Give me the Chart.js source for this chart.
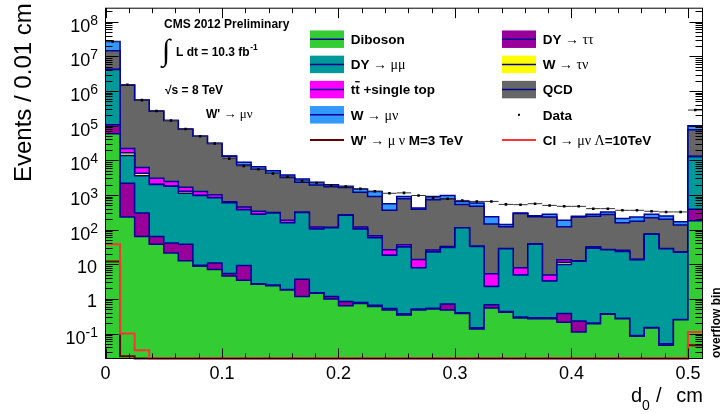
<!DOCTYPE html>
<html>
<head>
<meta charset="utf-8">
<script src="https://cdn.jsdelivr.net/npm/chart.js@4/dist/chart.umd.min.js"></script>
<style>
  html, body { margin: 0; padding: 0; background: #fff; }
  #wrap { width: 721px; height: 414px; }
</style>
</head>
<body>
<div id="wrap"><canvas id="d0-plot" width="721" height="414"></canvas></div>
<script>
// d0 bins: 40 bins of 0.0125 cm plus the overflow bin
const binEdges = [0, 0.0125, 0.025, 0.0375, 0.05, 0.0625, 0.075, 0.0875, 0.1, 0.1125,
  0.125, 0.1375, 0.15, 0.1625, 0.175, 0.1875, 0.2, 0.2125, 0.225, 0.2375,
  0.25, 0.2625, 0.275, 0.2875, 0.3, 0.3125, 0.325, 0.3375, 0.35, 0.3625,
  0.375, 0.3875, 0.4, 0.4125, 0.425, 0.4375, 0.45, 0.4625, 0.475, 0.4875,
  0.5, 0.5125];

const diboson = [5.9e4, 233, 63, 38, 21, 12.7, 8.8, 7.05, 4.55, 3.43,
  2.63, 2.41, 1.82, 1.17, 1.46, 0.985, 0.636, 0.74, 0.6, 0.48,
  0.345, 0.48, 0.51, 0.48, 0.38, 0.136, 0.55, 0.41, 0.28, 0.265,
  0.265, 0.21, 0.111, 0.19, 0.36, 0.265, 0.083, 0.144, 0.046, 0.25,
  180];
const dyTauTau = [4.7e4, 1950, 240, 25, 20, 25, 0.6, 3.9, 0.9, 5.7,
  0.1, 0.1, 0.05, 2.5, 0.05, 0.19, 0.21, 0.05, 0.05, 0.05,
  0.03, 0.03, 0.03, 0.23, 0.02, 0.01, 0.13, 0.02, 0.02, 0.02,
  0.02, 0.17, 0.117, 0.01, 0.01, 0.01, 0.005, 0.005, 0.005, 0.005,
  205];
const dyMuMu = [4.08e6, 11700, 3290, 1930, 1740, 1080, 955, 817, 593, 368,
  274, 300, 155, 306, 102, 112, 259, 103, 58, 17.6,
  30.9, 7.35, 21.9, 29.8, 112, 32.4, 1.58, 27.6, 4.56, 37.7,
  3.0, 9.4, 12, 29, 25.8, 23.2, 13.5, 73, 28, 22,
  12400];
const wTauNu = [3000, 2700, 680, 50, 30, 160, 20, 15, 5, 3,
  2, 1, 1, 1, 1, 0.5, 0.5, 0.5, 0.3, 0.2,
  0.2, 0.1, 0.1, 0.1, 0.1, 0.1, 0.01, 0.05, 0.02, 0.05,
  0.02, 1.6, 0.05, 0.1, 0.05, 0.05, 0.05, 0.05, 0.05, 0.05,
  50];
const ttSingleTop = [2000, 5400, 1930, 1010, 640, 390, 270, 165, 30, 70,
  60, 10, 30, 8, 14, 3, 3, 14, 7, 8.1,
  5, 5.7, 3.2, 2, 1, 0.5, 3.04, 0.3, 3, 0.3,
  1.58, 2.2, 0.3, 2.6, 0.3, 1.7, 0.2, 0.3, 0.2, 0.2,
  200];
const qcd = [1.04e7, 1.46e6, 5.4e5, 2.6e5, 1.38e5, 7.8e4, 4.8e4, 2.95e4, 1.25e4, 6930,
  5200, 3950, 3030, 2000, 1830, 1620, 1370, 1080, 840, 335,
  740, 372, 700, 745, 420, 437, 139, 93, 282, 195,
  228, 107, 220, 211, 246, 132, 161, 145, 172, 113,
  6.3e4];
const wMuNu = [1.23e7, 4e4, 5e3, 3e3, 2e3, 1e3, 700, 400, 250, 1500,
  1000, 710, 530, 560, 370, 250, 150, 300, 350, 200,
  130, 35, 180, 190, 117, 115, 89, 20, 13, 16,
  44, 66, 12, 34, 52, 52, 58, 59, 45, 33,
  2.3e4];
const observed = [2.7e7, 1.53e6, 5.48e5, 2.66e5, 1.41e5, 8.0e4, 4.95e4, 3.06e4, 1.12e4, 6900,
  5560, 4170, 3360, 2580, 2220, 1860, 1740, 1500, 1280, 1120,
  1150, 966, 829, 777, 695, 652, 652, 535, 525, 560,
  500, 470, 470, 403, 403, 361, 361, 338, 324, 324,
  2.83e5];
const wPrime = [12, 0.022, 0, 0, 0, 0, 0, 0, 0, 0,
  0, 0, 0, 0, 0, 0, 0, 0, 0, 0,
  0, 0, 0, 0, 0, 0, 0, 0, 0, 0,
  0, 0, 0, 0, 0, 0, 0, 0, 0, 0,
  0.046];
const contactInt = [38, 0.1, 0.033, 0, 0, 0, 0, 0, 0, 0,
  0, 0, 0, 0, 0, 0, 0, 0, 0, 0,
  0, 0, 0, 0, 0, 0, 0, 0, 0, 0,
  0, 0, 0, 0, 0, 0, 0, 0, 0, 0,
  0.11];

const xTickLabels = ["0", "0.1", "0.2", "0.3", "0.4", "0.5"];
const yTickExponents = [-1, 0, 1, 2, 3, 4, 5, 6, 7, 8];

const yMin = 0.019;
const yMax = 2.47e8;
const navy = "#000099";

const stack = [
  { label: "Diboson", values: diboson, color: "#33cc33" },
  { label: "DY → ττ", values: dyTauTau, color: "#990099" },
  { label: "DY → μμ", values: dyMuMu, color: "#009999" },
  { label: "W → τν", values: wTauNu, color: "#ffff00" },
  { label: "tt +single top", values: ttSingleTop, color: "#ff00ff" },
  { label: "QCD", values: qcd, color: "#666666" },
  { label: "W → μν", values: wMuNu, color: "#3399ff" },
];

// histogram outline: each bin gives a left and right point
function histPoints(vals) {
  return vals.flatMap((v, i) => {
    const y = v > 0 ? v : yMin;
    return [{ x: binEdges[i], y: y }, { x: binEdges[i + 1], y: y }];
  });
}

let running = diboson.map(() => 0);
const stackSets = stack.map((s, k) => {
  running = running.map((r, i) => r + s.values[i]);
  return {
    label: s.label,
    data: histPoints(running),
    backgroundColor: s.color,
    borderColor: navy,
    borderWidth: 1.5,
    pointRadius: 0,
    fill: k === 0 ? "start" : "-1",
    order: 5,
  };
});

const centers = observed.map((v, i) => ({ x: (binEdges[i] + binEdges[i + 1]) / 2, y: v }));

const overlaySets = [
  { label: "W' → μ ν M=3 TeV", data: histPoints(wPrime), borderColor: "#660000",
    borderWidth: 2, pointRadius: 0, fill: false, order: 2, clip: false },
  { label: "CI → μν Λ=10TeV", data: histPoints(contactInt), borderColor: "#ff3333",
    borderWidth: 2, pointRadius: 0, fill: false, order: 1, clip: false },
  { label: "Data", data: centers, showLine: false, pointStyle: "line", pointRadius: 7.2,
    pointBorderColor: "#333", pointBorderWidth: 1, order: 0 },
  { label: "Data markers", data: centers, showLine: false, pointStyle: "rect", pointRadius: 1.8,
    pointBackgroundColor: "#000", pointBorderColor: "#000", pointBorderWidth: 0, order: -1 },
];

const sansB = (px) => `bold ${px}px "Liberation Sans", Arial, sans-serif`;
const sans = (px) => `${px}px "Liberation Sans", Arial, sans-serif`;
const serif = (px) => `${px}px "Liberation Serif", "Times New Roman", serif`;

function drawRuns(ctx, x, y, runs) {
  ctx.textAlign = "left";
  ctx.textBaseline = "alphabetic";
  for (const r of runs) {
    ctx.font = r.font;
    ctx.fillText(r.text, x, y + (r.dy || 0));
    x += ctx.measureText(r.text).width;
  }
  return x;
}

const B = sansB(13.5), S = serif(14);
const legendRows = [39.2, 64.4, 89.6, 114.8, 140];
const legendItems = [
  { col: 0, row: 0, kind: "box", color: "#33cc33", runs: [{ text: "Diboson", font: B }] },
  { col: 0, row: 1, kind: "box", color: "#009999", runs: [{ text: "DY", font: B }, { text: " → μμ", font: S }] },
  { col: 0, row: 2, kind: "box", color: "#ff00ff", runs: [{ text: "tt", font: B }, { text: " +single top", font: B }], bar: true },
  { col: 0, row: 3, kind: "box", color: "#3399ff", runs: [{ text: "W", font: B }, { text: " → μν", font: S }] },
  { col: 0, row: 4, kind: "line", color: "#660000", runs: [{ text: "W'", font: B }, { text: " → μ ν", font: S }, { text: " M=3 TeV", font: B }] },
  { col: 1, row: 0, kind: "box", color: "#990099", runs: [{ text: "DY", font: B }, { text: " → ττ", font: S }] },
  { col: 1, row: 1, kind: "box", color: "#ffff00", runs: [{ text: "W", font: B }, { text: " → τν", font: S }] },
  { col: 1, row: 2, kind: "box", color: "#666666", runs: [{ text: "QCD", font: B }] },
  { col: 1, row: 3, kind: "dot", color: "#000", runs: [{ text: "Data", font: B }] },
  { col: 1, row: 4, kind: "line", color: "#ff3333", runs: [{ text: "CI", font: B }, { text: " → μν Λ", font: S }, { text: "=10TeV", font: B }] },
];
const legendBoxX = [310, 502];
const legendTextX = [350.7, 542.7];

const rootStyle = {
  id: "rootStyle",
  afterDatasetsDraw(chart) {
    const { ctx, chartArea: a } = chart;
    const xs = chart.scales.x, ys = chart.scales.y;
    ctx.save();
    ctx.strokeStyle = "#000";
    ctx.fillStyle = "#000";
    ctx.lineWidth = 1;

    // ticks pointing inward
    ctx.beginPath();
    for (let k = 0; k <= 25; k++) {
      const px = Math.round(xs.getPixelForValue(k * 0.02)) + 0.5;
      const len = k % 5 === 0 ? 10 : 5;
      ctx.moveTo(px, a.bottom); ctx.lineTo(px, a.bottom - len);
      ctx.moveTo(px, a.top); ctx.lineTo(px, a.top + len);
    }
    for (let e = -2; e <= 8; e++) {
      for (let m = 1; m <= 9; m++) {
        const v = m * Math.pow(10, e);
        if (v < yMin || v > yMax) continue;
        const py = Math.round(ys.getPixelForValue(v)) + 0.5;
        const len = m === 1 ? 13 : 7;
        ctx.moveTo(a.left, py); ctx.lineTo(a.left + len, py);
        ctx.moveTo(a.right, py); ctx.lineTo(a.right - len, py);
      }
    }
    ctx.stroke();
    ctx.strokeRect(a.left, a.top, a.right - a.left, a.bottom - a.top);

    // x tick labels
    ctx.font = sans(18);
    ctx.textAlign = "center";
    ctx.textBaseline = "alphabetic";
    xTickLabels.forEach((t, i) => ctx.fillText(t, xs.getPixelForValue(i * 0.1), 379));

    // y tick labels
    yTickExponents.forEach((e) => {
      const py = ys.getPixelForValue(Math.pow(10, e));
      ctx.textAlign = "right";
      if (e === 0 || e === 1) {
        ctx.font = sans(18);
        ctx.fillText(e === 0 ? "1" : "10", 97, py + 8.5);
      } else {
        ctx.font = sans(14);
        const sup = String(e);
        ctx.fillText(sup, 98, py + 3);
        const w = ctx.measureText(sup).width;
        ctx.font = sans(18);
        ctx.fillText("10", 98 - w, py + 10);
      }
    });

    // axis titles
    ctx.save();
    ctx.translate(31.3, 182);
    ctx.rotate(-Math.PI / 2);
    ctx.font = sans(24);
    ctx.textAlign = "left";
    ctx.fillText("Events / 0.01 cm", 0, 0);
    ctx.restore();

    drawRuns(ctx, 631, 401.7, [{ text: "d", font: sans(20) }]);
    drawRuns(ctx, 642, 409.5, [{ text: "0", font: sans(14) }]);
    drawRuns(ctx, 656, 401.7, [{ text: "/", font: sans(20) }]);
    ctx.font = sans(20);
    ctx.textAlign = "right";
    ctx.fillText("cm", 703, 401.7);

    ctx.save();
    ctx.translate(719.5, 358);
    ctx.rotate(-Math.PI / 2);
    ctx.font = sansB(12);
    ctx.textAlign = "left";
    ctx.fillText("overflow bin", 0, 0);
    ctx.restore();

    // CMS labels
    drawRuns(ctx, 164, 28, [{ text: "CMS 2012 Preliminary", font: sansB(12) }]);
    drawRuns(ctx, 162, 60, [{ text: "∫", font: serif(30) }]);
    const endL = drawRuns(ctx, 176, 56, [{ text: "L dt = 10.3 fb", font: sansB(12) }]);
    drawRuns(ctx, endL + 0.5, 50, [{ text: "-1", font: sansB(8.5) }]);
    drawRuns(ctx, 165, 94, [{ text: "√", font: sansB(12) }, { text: "s = 8 TeV", font: sansB(12) }]);
    drawRuns(ctx, 206, 117.5, [{ text: "W'", font: sansB(12) }, { text: " → μν", font: serif(13) }]);

    // legend
    legendItems.forEach((it) => {
      const cy = legendRows[it.row];
      const bx = legendBoxX[it.col];
      if (it.kind === "box") {
        ctx.fillStyle = it.color;
        ctx.fillRect(bx, cy - 8.75, 34, 17.5);
        ctx.strokeStyle = navy;
        ctx.lineWidth = 1.5;
        ctx.beginPath(); ctx.moveTo(bx, cy); ctx.lineTo(bx + 34, cy); ctx.stroke();
      } else if (it.kind === "line") {
        ctx.strokeStyle = it.color;
        ctx.lineWidth = 2;
        ctx.beginPath(); ctx.moveTo(bx, cy); ctx.lineTo(bx + 34, cy); ctx.stroke();
      } else {
        ctx.fillStyle = "#000";
        ctx.fillRect(bx + 16, cy - 1, 2, 2);
      }
      ctx.fillStyle = "#000";
      const tx = legendTextX[it.col];
      drawRuns(ctx, tx, cy + 4.85, it.runs);
      if (it.bar) {
        ctx.font = B;
        const w1 = ctx.measureText("t").width;
        ctx.fillRect(tx + w1, cy - 8.5, w1, 1.3);
      }
    });
    ctx.restore();
  },
};

new Chart(document.getElementById("d0-plot").getContext("2d"), {
  type: "line",
  data: { datasets: stackSets.concat(overlaySets) },
  options: {
    responsive: false,
    animation: false,
    layout: { padding: { left: 105.5, right: 18.5, top: 3.5, bottom: 55.5 } },
    plugins: { legend: { display: false }, tooltip: { enabled: false } },
    elements: { line: { tension: 0 } },
    scales: {
      x: { type: "linear", min: 0, max: 0.5125, display: false },
      y: { type: "logarithmic", min: yMin, max: yMax, display: false },
    },
  },
  plugins: [rootStyle],
});
</script>
</body>
</html>
